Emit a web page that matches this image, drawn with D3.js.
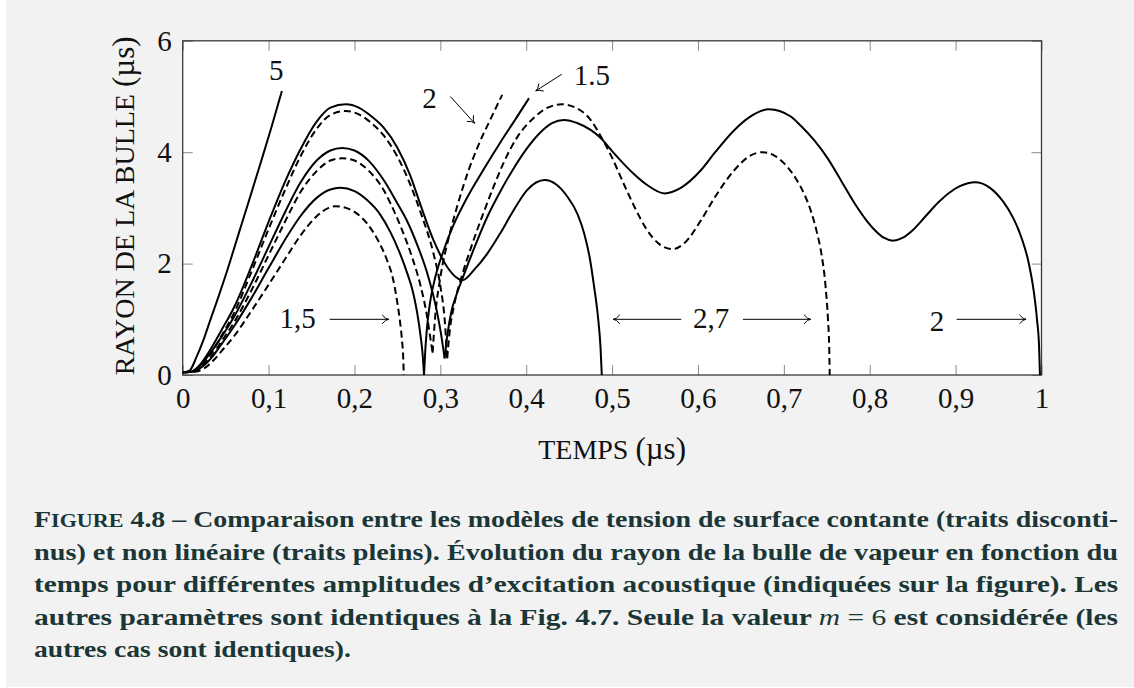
<!DOCTYPE html>
<html><head><meta charset="utf-8">
<script src="https://cdn.jsdelivr.net/npm/d3@7"></script>
<style>
html,body{margin:0;padding:0;background:#f2f2f2;}
svg{display:block;}
</style></head><body>
<svg id="c" width="1134" height="688"></svg>
<script>
// ---------------- data ----------------
const xTicks = [0,0.1,0.2,0.3,0.4,0.5,0.6,0.7,0.8,0.9,1];
const yTicks = [0,2,4,6];
const xTitle = "TEMPS";
const yTitle = "RAYON DE LA BULLE";
const unit = "(µs)";

// amplitude 5, non linear (solid)
const s5 = [[0,0.05],[0.008,0.08],[0.016,0.32],[0.024,0.62],[0.032,0.98],[0.042,1.42],[0.0513,1.85],[0.065,2.53],[0.08,3.27],[0.09,3.77],[0.103,4.43],[0.1155,5.1]];
// amplitude 2.7
const s27 = [[0,0.05],[0.01,0.06],[0.02,0.18],[0.03,0.4],[0.045,0.8],[0.06,1.22],[0.08,1.95],[0.1,2.75],[0.12,3.5],[0.137,4.05],[0.156,4.55],[0.172,4.8],[0.19,4.86],[0.205,4.8],[0.22,4.64],[0.234,4.44],[0.25,4.08],[0.265,3.58],[0.277,3.05],[0.292,2.42],[0.308,1.94],[0.318,1.76],[0.3255,1.70],[0.34,1.9],[0.3547,2.18],[0.37,2.55],[0.385,2.95],[0.401,3.32],[0.4216,3.5],[0.435,3.42],[0.448,3.2],[0.46,2.88],[0.4675,2.54],[0.474,2.1],[0.479,1.59],[0.4835,1.05],[0.4865,0.5],[0.488,0.0]];
const d27a = [[0,0.05],[0.012,0.06],[0.022,0.16],[0.033,0.38],[0.045,0.7],[0.06,1.12],[0.08,1.85],[0.1,2.62],[0.12,3.35],[0.137,3.92],[0.156,4.42],[0.172,4.67],[0.19,4.74],[0.205,4.68],[0.22,4.52],[0.234,4.3],[0.25,3.92],[0.265,3.42],[0.277,2.92],[0.292,2.18],[0.3,1.6],[0.305,1.0],[0.308,0.3]];
const d27b = [[0.308,0.3],[0.311,0.8],[0.316,1.25],[0.3255,1.8],[0.336,2.3],[0.35,2.9],[0.362,3.38],[0.374,3.82],[0.39,4.28],[0.409,4.62],[0.425,4.8],[0.4415,4.86],[0.46,4.78],[0.475,4.58],[0.487,4.28],[0.5,3.9],[0.513,3.45],[0.526,3.02],[0.54,2.62],[0.555,2.35],[0.5706,2.26],[0.585,2.38],[0.6036,2.78],[0.62,3.2],[0.6425,3.68],[0.66,3.93],[0.6756,4.0],[0.69,3.93],[0.705,3.72],[0.715,3.5],[0.724,3.24],[0.732,2.92],[0.7385,2.56],[0.7437,2.18],[0.7485,1.6],[0.7514,0.99],[0.7528,0.5],[0.7534,0.0]];
// amplitude 2
const s2a = [[0,0.05],[0.01,0.06],[0.02,0.16],[0.03,0.35],[0.045,0.68],[0.06,1.05],[0.08,1.65],[0.1,2.3],[0.12,2.95],[0.137,3.45],[0.156,3.85],[0.172,4.03],[0.1855,4.075],[0.2,4.03],[0.217,3.84],[0.234,3.5],[0.25,3.08],[0.2614,2.76],[0.274,2.3],[0.2847,1.83],[0.2964,1.11],[0.301,0.72],[0.305,0.3]];
const s2b = [[0.305,0.3],[0.308,0.7],[0.313,1.15],[0.319,1.45],[0.3255,1.72],[0.34,2.3],[0.355,2.85],[0.37,3.3],[0.385,3.7],[0.4,4.05],[0.415,4.33],[0.43,4.52],[0.444,4.58],[0.46,4.52],[0.475,4.4],[0.487,4.25],[0.5,4.02],[0.513,3.8],[0.526,3.6],[0.54,3.42],[0.561,3.26],[0.58,3.36],[0.6036,3.68],[0.62,4.0],[0.6425,4.4],[0.66,4.63],[0.683,4.77],[0.695,4.74],[0.708,4.64],[0.72,4.47],[0.735,4.22],[0.7514,3.88],[0.767,3.48],[0.7825,3.08],[0.795,2.8],[0.806,2.6],[0.817,2.46],[0.827,2.41],[0.838,2.46],[0.85,2.6],[0.865,2.85],[0.88,3.1],[0.8915,3.26],[0.905,3.39],[0.9225,3.46],[0.94,3.36],[0.955,3.12],[0.967,2.82],[0.977,2.45],[0.985,2.02],[0.991,1.5],[0.9948,0.99],[0.9972,0.5],[0.9982,0.0]];
const d2a = [[0,0.05],[0.012,0.06],[0.022,0.14],[0.033,0.32],[0.045,0.6],[0.06,0.95],[0.08,1.52],[0.1,2.15],[0.12,2.78],[0.137,3.28],[0.156,3.66],[0.172,3.85],[0.1855,3.89],[0.2,3.85],[0.217,3.66],[0.234,3.32],[0.242,3.08],[0.255,2.62],[0.267,2.12],[0.277,1.6],[0.284,1.1],[0.289,0.6],[0.291,0.4]];
const d2b = [[0.291,0.4],[0.294,1.05],[0.3,1.75],[0.31,2.48],[0.32,3.05],[0.333,3.68],[0.345,4.15],[0.358,4.58],[0.372,5.03]];
// amplitude 1.5
const s15a = [[0,0.05],[0.012,0.06],[0.022,0.14],[0.033,0.3],[0.045,0.55],[0.06,0.88],[0.08,1.38],[0.1,1.92],[0.12,2.45],[0.137,2.85],[0.156,3.18],[0.172,3.33],[0.1835,3.36],[0.2,3.3],[0.2147,3.14],[0.23,2.88],[0.242,2.56],[0.252,2.22],[0.2614,1.83],[0.268,1.5],[0.273,1.12],[0.277,0.7],[0.2795,0.35],[0.281,0]];
const s15b = [[0.281,0],[0.2825,0.45],[0.2845,0.85],[0.288,1.3],[0.294,1.75],[0.303,2.2],[0.315,2.68],[0.33,3.15],[0.35,3.68],[0.37,4.18],[0.387,4.58],[0.4033,4.97]];
const d15 = [[0,0.05],[0.015,0.06],[0.025,0.12],[0.035,0.25],[0.048,0.48],[0.06,0.7],[0.08,1.15],[0.1,1.62],[0.12,2.1],[0.137,2.5],[0.156,2.85],[0.17,3.0],[0.178,3.03],[0.19,3.0],[0.2,2.93],[0.2147,2.72],[0.228,2.4],[0.238,2.06],[0.245,1.72],[0.2497,1.32],[0.2535,0.9],[0.2555,0.6],[0.2568,0.3],[0.2574,0.0]];

const solidCurves = [s5, s27, s2a, s2b, s15a, s15b];
const dashedCurves = [d27a, d27b, d2a, d2b, d15];

// annotations (data coordinates)
const labelText = ["5","2","1.5","1,5","2,7","2"];
const labelT    = [0.1089,0.2874,0.4764,0.1337,0.6153,0.8784];
const labelR    = [5.30,4.79,5.21,0.84,0.84,0.79];
const arrowFrom = [[0.3116,5.0],[0.4414,5.40],[0.1711,1.0],[0.5805,1.0],[0.6523,1.0],[0.9012,1.0]];
const arrowTo   = [[0.3399,4.52],[0.4111,5.10],[0.2399,1.0],[0.5013,1.0],[0.7312,1.0],[0.982,1.0]];

const captionLines = [
  [["F","big"],["IGURE","sc"],[" 4.8 – Comparaison entre les modèles de tension de surface contante (traits disconti-",""]],
  [["nus) et non linéaire (traits pleins). Évolution du rayon de la bulle de vapeur en fonction du",""]],
  [["temps pour différentes amplitudes d’excitation acoustique (indiquées sur la figure). Les",""]],
  [["autres paramètres sont identiques à la Fig. 4.7. Seule la valeur ",""],["m","mi"],[" = 6","mr"],[" est considérée (les",""]],
  [["autres cas sont identiques).",""]]
];

// ---------------- drawing ----------------
const W = 1134, H = 688;
const svg = d3.select("#c");
const SERIF = "'Liberation Serif','Times New Roman',serif";
const pLeft = 182.7, pRight = 1041.5, pTop = 40.8, pBottom = 375;
const x = d3.scaleLinear().domain([0,1]).range([pLeft,pRight]);
const y = d3.scaleLinear().domain([0,6]).range([pBottom,pTop]);

svg.append("rect").attr("width",W).attr("height",H).attr("fill","#f2f2f2");
svg.append("rect").attr("x",0).attr("y",0).attr("width",6).attr("height",H).attr("fill","#ffffff");
svg.append("rect").attr("x",0).attr("y",H-1).attr("width",W).attr("height",1).attr("fill","#ffffff");
svg.append("rect").attr("x",pLeft).attr("y",pTop).attr("width",pRight-pLeft).attr("height",pBottom-pTop).attr("fill","#ffffff");

const xfmt = d => d===0 ? "0" : d===1 ? "1" : d3.format(".1f")(d).replace(".",",");
const tickLen = 10;
function styleAxis(g){
  g.select(".domain").remove();
  g.selectAll(".tick line").attr("stroke","#8c8c8c").attr("stroke-width",1);
  g.selectAll(".tick text").attr("fill","#111").style("font-family",SERIF).style("font-size","29px");
}
svg.append("g").attr("transform",`translate(0,${pBottom})`)
  .call(d3.axisBottom(x).tickValues(xTicks).tickSize(-tickLen).tickPadding(12).tickFormat(xfmt)).call(styleAxis);
svg.append("g").attr("transform",`translate(0,${pTop})`)
  .call(d3.axisTop(x).tickValues(xTicks).tickSize(-tickLen).tickFormat("")).call(styleAxis);
svg.append("g").attr("transform",`translate(${pLeft},0)`)
  .call(d3.axisLeft(y).tickValues(yTicks).tickSize(-tickLen).tickPadding(11).tickFormat(d3.format("d"))).call(styleAxis);
svg.append("g").attr("transform",`translate(${pRight},0)`)
  .call(d3.axisRight(y).tickValues(yTicks).tickSize(-tickLen).tickFormat("")).call(styleAxis);

// frame
svg.append("rect").attr("x",pLeft).attr("y",pTop).attr("width",pRight-pLeft).attr("height",pBottom-pTop)
  .attr("fill","none").attr("stroke","#3a3a3a").attr("stroke-width",1.3);

// curves
svg.append("clipPath").attr("id","clip").append("rect")
  .attr("x",pLeft).attr("y",pTop-2).attr("width",pRight-pLeft).attr("height",pBottom-pTop+2);
const line = d3.line().x(d=>x(d[0])).y(d=>y(d[1])).curve(d3.curveMonotoneX);
const cg = svg.append("g").attr("clip-path","url(#clip)");
cg.selectAll("path.solid").data(solidCurves).join("path").attr("class","solid")
  .attr("d",line).attr("fill","none").attr("stroke","#000").attr("stroke-width",2).attr("stroke-linejoin","round");
cg.selectAll("path.dashed").data(dashedCurves).join("path").attr("class","dashed")
  .attr("d",line).attr("fill","none").attr("stroke","#000").attr("stroke-width",2).attr("stroke-dasharray","7,4");

// annotations
const ag = svg.append("g");
labelText.forEach((t,i)=>{
  ag.append("text").attr("x",x(labelT[i])).attr("y",y(labelR[i])).attr("text-anchor","middle")
    .style("font-family",SERIF).style("font-size","29px").attr("fill","#111").text(t);
});
arrowFrom.forEach((f,i)=>{
  const x0=x(f[0]), y0=y(f[1]), x1=x(arrowTo[i][0]), y1=y(arrowTo[i][1]);
  const a = Math.atan2(y1-y0,x1-x0), L=8, sp=0.6;
  ag.append("line").attr("x1",x0).attr("y1",y0).attr("x2",x1).attr("y2",y1).attr("stroke","#000").attr("stroke-width",1);
  ag.append("path").attr("d",`M${x1-L*Math.cos(a-sp)},${y1-L*Math.sin(a-sp)} Q${x1-3*Math.cos(a)},${y1-3*Math.sin(a)} ${x1},${y1} Q${x1-3*Math.cos(a)},${y1-3*Math.sin(a)} ${x1-L*Math.cos(a+sp)},${y1-L*Math.sin(a+sp)}`)
    .attr("fill","none").attr("stroke","#000").attr("stroke-width",1);
});

// axis titles
function title(g, txt){
  const t = g.append("text").attr("fill","#111").style("font-family",SERIF);
  t.append("tspan").style("font-size","28px").text(txt+" ");
  t.append("tspan").style("font-size","31px").text(unit);
  return t;
}
title(svg.append("g").attr("transform",`translate(${(pLeft+pRight)/2},459)`), xTitle).attr("text-anchor","middle");
title(svg.append("g").attr("transform",`translate(134,${(pTop+pBottom)/2 - 2}) rotate(-90)`), yTitle).attr("text-anchor","middle");

// caption
const capLeft = 34, capRight = 1118, capTop = 527, capStep = 32.5;
const capColor = "#1b3636";
const capNodes = [];
captionLines.forEach((parts,i)=>{
  const t = svg.append("text").attr("x",capLeft).attr("y",capTop+i*capStep)
    .attr("fill",capColor).style("font-family",SERIF).style("font-size","24px").style("font-weight","bold");
  parts.forEach(p=>{
    const ts = t.append("tspan").text(p[0]);
    if(p[1]==="big") ts.style("font-size","24px");
    if(p[1]==="sc") ts.style("font-size","19px");
    if(p[1]==="mi") ts.style("font-style","italic").style("font-weight","normal");
    if(p[1]==="mr") ts.style("font-weight","normal");
  });
  capNodes.push(t);
});
const ratios = [];
capNodes.forEach((t,i)=>{
  if(i < capNodes.length-1){
    const w = t.node().getComputedTextLength();
    ratios.push((capRight-capLeft)/w);
    t.attr("textLength",capRight-capLeft).attr("lengthAdjust","spacingAndGlyphs");
  }
});
const last = capNodes[capNodes.length-1];
const lr = Math.min(d3.mean(ratios), 1.15);
last.attr("textLength", last.node().getComputedTextLength()*lr).attr("lengthAdjust","spacingAndGlyphs");
</script>
</body></html>
